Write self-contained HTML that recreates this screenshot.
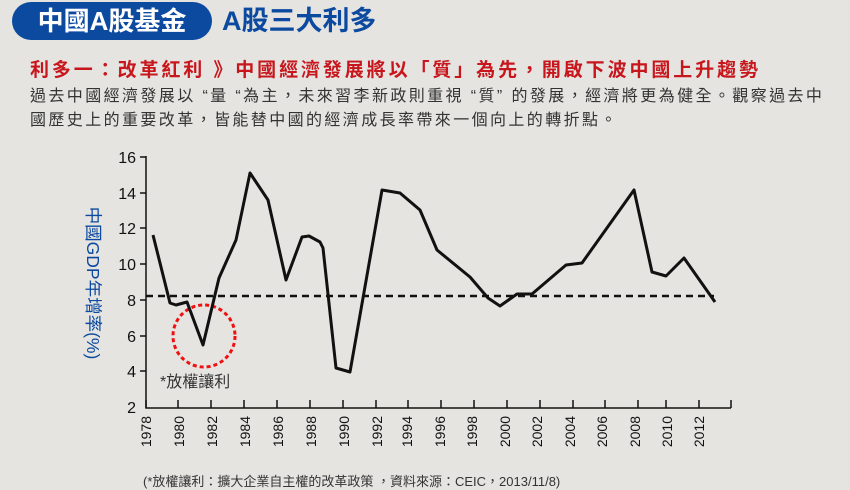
<!DOCTYPE html>
<html><head><meta charset="utf-8"><style>
body{margin:0;width:850px;height:490px;background:#e5e4e1;overflow:hidden;font-family:"Liberation Sans","Noto Sans CJK TC",sans-serif;position:relative}
.pill{position:absolute;left:12px;top:2px;width:200px;height:38px;border-radius:19px;background:#0c4aa0;color:#fff;font-size:26px;font-weight:bold;line-height:38px;text-align:center}
.t2{position:absolute;left:222px;top:2px;color:#0c4aa0;font-size:27px;font-weight:bold;line-height:38px}
.red{position:absolute;left:30px;top:59px;color:#c8161d;font-size:19px;font-weight:bold;line-height:24px;white-space:nowrap;letter-spacing:2.9px}
.body{position:absolute;left:30px;top:85px;color:#333;font-size:16px;line-height:24px;white-space:nowrap;letter-spacing:2.4px}
</style></head><body>
<div class="pill">中國A股基金</div>
<div class="t2">A股三大利多</div>
<div class="red">利多一：改革紅利 》中國經濟發展將以「質」為先，開啟下波中國上升趨勢</div>
<div class="body">過去中國經濟發展以 “量 “為主，未來習李新政則重視 “質” 的發展，經濟將更為健全。觀察過去中<br>國歷史上的重要改革，皆能替中國的經濟成長率帶來一個向上的轉折點。</div>
<svg width="850" height="490" style="position:absolute;left:0;top:0" font-family="Liberation Sans, Noto Sans CJK TC, sans-serif">
<g stroke="#111" stroke-width="1.5" fill="none">
<path d="M146,156V408H731"/>
<path d="M140,157H146M140,193H146M140,228H146M140,264H146M140,300H146M140,336H146M140,371H146"/>
<path d="M146,408v-8M178,408v-8M211,408v-8M244,408v-8M277,408v-8M310,408v-8M343,408v-8M376,408v-8M408,408v-8M441,408v-8M474,408v-8M507,408v-8M540,408v-8M573,408v-8M605,408v-8M638,408v-8M666,408v-8M699,408v-8M731,408v-8"/>
</g>
<g font-size="16" fill="#111" text-anchor="end">
<text x="136" y="163">16</text><text x="136" y="199">14</text><text x="136" y="234">12</text><text x="136" y="270">10</text><text x="136" y="306">8</text><text x="136" y="342">6</text><text x="136" y="377">4</text><text x="136" y="413">2</text>
</g>
<g font-size="14" fill="#111" text-anchor="end">
<text transform="translate(151,416) rotate(-90)">1978</text>
<text transform="translate(184,416) rotate(-90)">1980</text>
<text transform="translate(217,416) rotate(-90)">1982</text>
<text transform="translate(250,416) rotate(-90)">1984</text>
<text transform="translate(283,416) rotate(-90)">1986</text>
<text transform="translate(316,416) rotate(-90)">1988</text>
<text transform="translate(349,416) rotate(-90)">1990</text>
<text transform="translate(382,416) rotate(-90)">1992</text>
<text transform="translate(412,416) rotate(-90)">1994</text>
<text transform="translate(445,416) rotate(-90)">1996</text>
<text transform="translate(477,416) rotate(-90)">1998</text>
<text transform="translate(510,416) rotate(-90)">2000</text>
<text transform="translate(542,416) rotate(-90)">2002</text>
<text transform="translate(575,416) rotate(-90)">2004</text>
<text transform="translate(607,416) rotate(-90)">2006</text>
<text transform="translate(640,416) rotate(-90)">2008</text>
<text transform="translate(672,416) rotate(-90)">2010</text>
<text transform="translate(704,416) rotate(-90)">2012</text>
</g>
<text transform="translate(87,283) rotate(90)" font-size="17.5" fill="#0c4aa0" text-anchor="middle">中國GDP年增率(%)</text>
<path d="M146,296H714" stroke="#111" stroke-width="2.5" stroke-dasharray="7,5"/>
<circle cx="204" cy="336" r="31" fill="none" stroke="#f01010" stroke-width="3" stroke-dasharray="4,3"/>
<text x="160" y="387" font-size="16" fill="#333">*放權讓利</text>
<polyline fill="none" stroke="#111" stroke-width="3" stroke-linejoin="round" points="153,235 170,303 176,305 187,302 203,345 219,278 236,240 250,173 268,200 286,280 302,237 309,236 320,242 323,248 336,368 350,372 382,190 400,193 420,210 437,250 470,277 488,298 500,306 517,294 532,294 566,265 582,263 634,190 652,272 666,276 684,258 715,302"/>
<text x="143" y="486" font-size="13" fill="#333">(*放權讓利：擴大企業自主權的改革政策 ，資料來源：CEIC，2013/11/8)</text>
</svg>
</body></html>
